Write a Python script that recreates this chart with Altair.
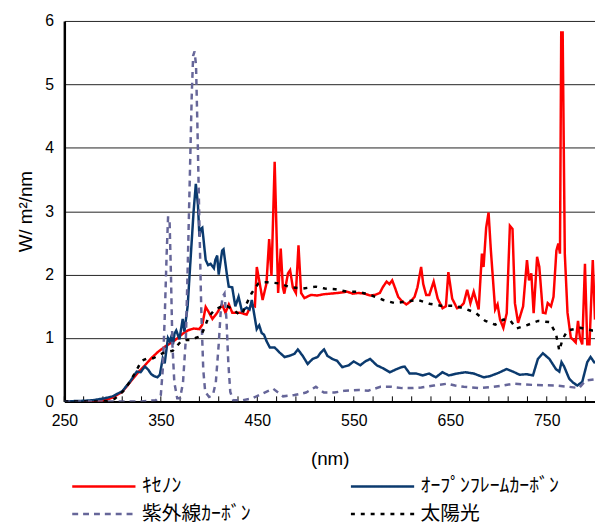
import altair as alt
import pandas as pd

# ---- data ----
names = ["ｷｾﾉﾝ", "ｵｰﾌﾟﾝﾌﾚｰﾑｶｰﾎﾞﾝ", "紫外線ｶｰﾎﾞﾝ", "太陽光"]
colors = ["#FF0000", "#0B3A6E", "#666699", "#000000"]
dashes = [[1, 0], [1, 0], [6, 5], [4, 6]]
widths = [2.5, 2.5, 4, 3]

xenon = [(270, 0), (285, 0), (292, 0.02), (300, 0.06), (310, 0.15), (318, 0.3), (326, 0.45),
         (333, 0.56), (340, 0.68), (347, 0.78), (354, 0.86), (360, 0.92), (366, 0.98), (372, 1.06),
         (378, 1.12), (384, 1.15), (390, 1.14), (393, 1.21), (396.5, 1.49), (400, 1.4), (403.5, 1.3),
         (408.5, 1.4), (413.5, 1.53), (417, 1.4), (420.5, 1.53), (424, 1.4), (432, 1.4), (439, 1.37),
         (444, 1.53), (447.5, 1.5), (449.5, 2.12), (452.5, 1.86), (455.5, 1.6), (459.5, 1.86),
         (462.3, 2.56), (464.7, 1.98), (468, 3.78), (471.6, 1.71), (474.3, 2.41), (476.5, 1.8),
         (478, 1.7), (481.8, 2.02), (484, 2.07), (486.8, 1.8), (490, 1.71), (492.7, 2.46),
         (495.4, 1.71), (498.8, 1.63), (505.6, 1.68), (512, 1.67), (519, 1.69), (526, 1.7),
         (533, 1.71), (543, 1.73), (549, 1.7), (555, 1.71), (561, 1.7), (567, 1.67), (572, 1.68),
         (577, 1.71), (580, 1.8), (584, 1.89), (587, 1.85), (589.8, 1.91), (593, 1.78), (596, 1.65),
         (600, 1.58), (604.5, 1.53), (609, 1.58), (613, 1.65), (616, 1.8), (619.8, 2.12), (622, 1.85),
         (625, 1.68), (628.3, 1.68), (632.8, 1.89), (637, 1.62), (642, 1.47), (645.5, 1.5),
         (648, 2.04), (652, 1.62), (657, 1.47), (661, 1.5), (664, 1.55), (667.5, 1.76), (670.9, 1.55),
         (674.3, 1.73), (679.4, 1.45), (682.8, 2.33), (684.5, 2.12), (687.2, 2.74), (689.7, 2.98),
         (692, 2.4), (696.5, 1.45), (699, 1.53), (701.6, 1.29), (705, 1.16), (708.5, 1.39),
         (711.8, 2.77), (714.5, 2.72), (717, 1.55), (720.3, 1.24), (725.5, 1.5), (729.5, 2.23),
         (731.6, 1.91), (734, 2.02), (736.4, 1.39), (740, 2.28), (742.3, 2.12), (746, 1.4),
         (748.7, 1.39), (751, 1.55), (754.4, 1.5), (757, 1.65), (760, 2.38), (762, 2.49),
         (763.7, 2.33), (765, 5.82), (766.5, 5.82), (768.7, 2.33), (771.5, 1.4), (774.9, 1.01),
         (780, 0.93), (782.4, 1.27), (784.4, 1.0), (786.8, 0.9), (789.6, 2.17), (792, 0.9),
         (794.3, 0.9), (797.7, 2.23), (800, 1.29)]

open_flame = [(250, 0), (270, 0.01), (280, 0.02), (292, 0.05), (300, 0.08), (310, 0.16), (318, 0.31),
              (322, 0.4), (325, 0.47), (329, 0.46), (333.5, 0.55), (337, 0.5), (340, 0.43),
              (343, 0.4), (346.4, 0.38), (349, 0.42), (352, 0.68), (354, 0.6), (357.4, 1.0),
              (359.2, 0.95), (360.8, 1.02), (362.6, 0.9), (364.2, 1.07), (366, 1.12), (369.3, 0.98),
              (372.7, 1.3), (374.4, 1.1), (377.8, 1.5), (381.2, 2.33), (384, 3.0), (386.3, 3.43),
              (388.5, 3.1), (390, 2.6), (391.4, 2.72), (393, 2.74), (396.5, 2.23), (399, 2.15),
              (401.6, 2.17), (405, 2.1), (406.5, 2.23), (408.4, 2.3), (410, 2.0), (413.6, 2.38),
              (415, 2.4), (417, 2.17), (418.5, 2.0), (420.4, 1.81), (424, 1.8), (427.2, 1.5),
              (430.6, 1.65), (434, 1.43), (439, 1.48), (442, 1.45), (444.3, 1.6), (449.4, 1.14),
              (452, 1.2), (454.5, 1.08), (457, 1.05), (459.6, 0.95), (463, 0.85), (468, 0.85),
              (473.2, 0.77), (478.3, 0.7), (483.4, 0.72), (488.5, 0.75), (492, 0.82), (497, 0.72),
              (502.2, 0.59), (507.3, 0.67), (512.4, 0.7), (515.8, 0.77), (519.2, 0.82), (522.6, 0.72),
              (527.7, 0.67), (532.8, 0.64), (538, 0.54), (544.8, 0.57), (549.9, 0.63), (556.7, 0.57),
              (561.8, 0.63), (567, 0.67), (573.8, 0.57), (580.6, 0.52), (587.4, 0.46), (593, 0.5),
              (599.3, 0.54), (602.7, 0.55), (607.9, 0.44), (614.7, 0.44), (621.5, 0.41), (628, 0.44),
              (635, 0.38), (641.8, 0.46), (648.6, 0.41), (657, 0.44), (665.8, 0.46), (674.3, 0.44),
              (684.6, 0.38), (691.4, 0.4), (700, 0.45), (708.4, 0.51), (715, 0.47), (722, 0.42),
              (729, 0.43), (735.7, 0.41), (740.8, 0.67), (746, 0.76), (752.7, 0.67), (759.5, 0.51),
              (763, 0.47), (765.3, 0.62), (768, 0.55), (773.2, 0.36), (777, 0.3), (781.7, 0.25),
              (786.8, 0.31), (792, 0.62), (795.4, 0.7), (800, 0.6)]

uv_carbon = [(250, 0), (300, 0), (330, 0), (345, 0.02), (350, 0.1), (352, 0.5), (354, 1.3),
             (356, 2.3), (357.5, 2.9), (359, 2.9), (360.5, 2.0), (362, 0.9), (364, 0.3), (367, 0.05),
             (370, 0.05), (373, 0.3), (376, 1.0), (378, 2.2), (380, 3.5), (382, 4.8), (383.5, 5.45),
             (385, 5.52), (386.5, 5.3), (388, 4.3), (390, 2.8), (392, 1.4), (394, 0.5), (396, 0.15),
             (400, 0.07), (404, 0.1), (407, 0.3), (410, 0.9), (412, 1.4), (414, 1.65), (416, 1.7),
             (418, 1.3), (420, 0.6), (422, 0.15), (425, 0.02), (435, 0.02), (445, 0.05), (455, 0.12),
             (466.5, 0.2), (476.7, 0.08), (488.5, 0.1), (500.5, 0.14), (510.7, 0.23), (519, 0.14),
             (530, 0.14), (541, 0.17), (555, 0.18), (565, 0.17), (577.7, 0.23), (589, 0.23),
             (600, 0.21), (609.6, 0.21), (620, 0.22), (633, 0.25), (647, 0.28), (655, 0.25),
             (664, 0.23), (681, 0.21), (695, 0.23), (705, 0.25), (715, 0.28), (735.7, 0.26),
             (759.5, 0.25), (773.2, 0.23), (783.4, 0.21), (790.2, 0.33), (800, 0.35)]

sunlight = [(250, 0), (290, 0), (297, 0.01), (302, 0.04), (306, 0.09), (311, 0.16), (318, 0.31),
            (324, 0.47), (330, 0.64), (336, 0.68), (342, 0.68), (347, 0.72), (352, 0.76), (357, 0.78),
            (362.5, 0.8), (367, 0.88), (371, 0.95), (376, 0.97), (382, 0.97), (386, 1.0),
            (391.4, 1.03), (395, 1.15), (398, 1.27), (401.6, 1.37), (406, 1.45), (413.6, 1.5),
            (419, 1.5), (425, 1.45), (432, 1.36), (435, 1.4), (438.5, 1.53), (444.3, 1.71),
            (451, 1.86), (457, 1.88), (462.4, 1.88), (472.8, 1.86), (484.7, 1.8), (497, 1.78),
            (510.7, 1.81), (520, 1.78), (531, 1.77), (543, 1.73), (555, 1.73), (568.7, 1.67),
            (580.6, 1.6), (592.5, 1.55), (606, 1.58), (616.5, 1.6), (628.3, 1.54), (640, 1.51),
            (654, 1.51), (664, 1.47), (676, 1.4), (686.3, 1.27), (696.6, 1.21), (705, 1.29),
            (712, 1.28), (718.6, 1.15), (729, 1.2), (741, 1.27), (753, 1.25), (759.5, 1.07),
            (763, 0.8), (766.4, 0.98), (771.5, 1.12), (785, 1.16), (797, 1.12), (800, 1.12)]

x_labels = [250, 350, 450, 550, 650, 750]
x_minor_ticks = list(range(250, 800, 20))
y_ticks = [0, 1, 2, 3, 4, 5, 6]

# ---- table ----
rows = []
for i, pts in enumerate([xenon, open_flame, uv_carbon, sunlight]):
    for x, y in pts:
        rows.append({"nm": x, "v": y, "s": names[i], "k": i})
df = pd.DataFrame(rows)
ticks_df = pd.DataFrame({"nm": x_minor_ticks, "y0": 0.0, "y1": 0.08})

FONT = "Liberation Sans"
JP = "Noto Sans CJK JP"

xscale = alt.Scale(domain=[250, 800], nice=False, zero=False)
yscale = alt.Scale(domain=[0, 6], nice=False)

lines = alt.Chart(df).mark_line(clip=True).encode(
    x=alt.X("nm:Q", scale=xscale,
            axis=alt.Axis(values=x_labels, title="(nm)", grid=False, ticks=False,
                          domainColor="#000", domainWidth=2, labelFont=FONT, labelFontSize=16,
                          labelColor="#000", labelPadding=11, titleFont=FONT, titleFontSize=19,
                          titleFontWeight="normal", titleColor="#000", titlePadding=22,
                          labelFlush=False, format="d")),
    y=alt.Y("v:Q", scale=yscale,
            axis=alt.Axis(values=y_ticks, title="W/ m²/nm", grid=True, gridColor="#222",
                          gridWidth=1, ticks=False, domainColor="#000", domainWidth=2.5,
                          labelFont=FONT, labelFontSize=16, labelColor="#000", labelPadding=11,
                          titleFont=FONT, titleFontSize=19, titleFontWeight="normal",
                          titleColor="#000", titlePadding=9, format="d")),
    color=alt.Color("s:N", scale=alt.Scale(domain=names, range=colors),
                    legend=alt.Legend(title=None, orient="none", legendX=6.5, legendY=460,
                                      direction="horizontal", columns=2,
                                      symbolType="stroke", symbolSize=4096,
                                      clipHeight=22,
                                      labelFont=JP, labelFontSize=20, labelColor="#000",
                                      labelOffset=5, labelLimit=400, columnPadding=100,
                                      rowPadding=6, padding=0)),
    strokeDash=alt.StrokeDash("s:N", scale=alt.Scale(domain=names, range=dashes)),
    strokeWidth=alt.StrokeWidth("s:N", scale=alt.Scale(domain=names, range=widths)),
    detail="k:O",
    order=alt.Order("k:O"),
)

minor = alt.Chart(ticks_df).mark_rule(color="#000", strokeWidth=1).encode(
    x=alt.X("nm:Q", scale=xscale),
    y=alt.Y("y0:Q", scale=yscale),
    y2="y1:Q",
)

chart = alt.layer(minor, lines).properties(
    width=537, height=385,
    autosize=alt.AutoSizeParams(type="none"),
    padding={"left": 57, "top": 10, "right": 0, "bottom": 127},
).configure_view(stroke=None)

chart.save("out.html", embed_options={"renderer": "svg", "actions": False})
